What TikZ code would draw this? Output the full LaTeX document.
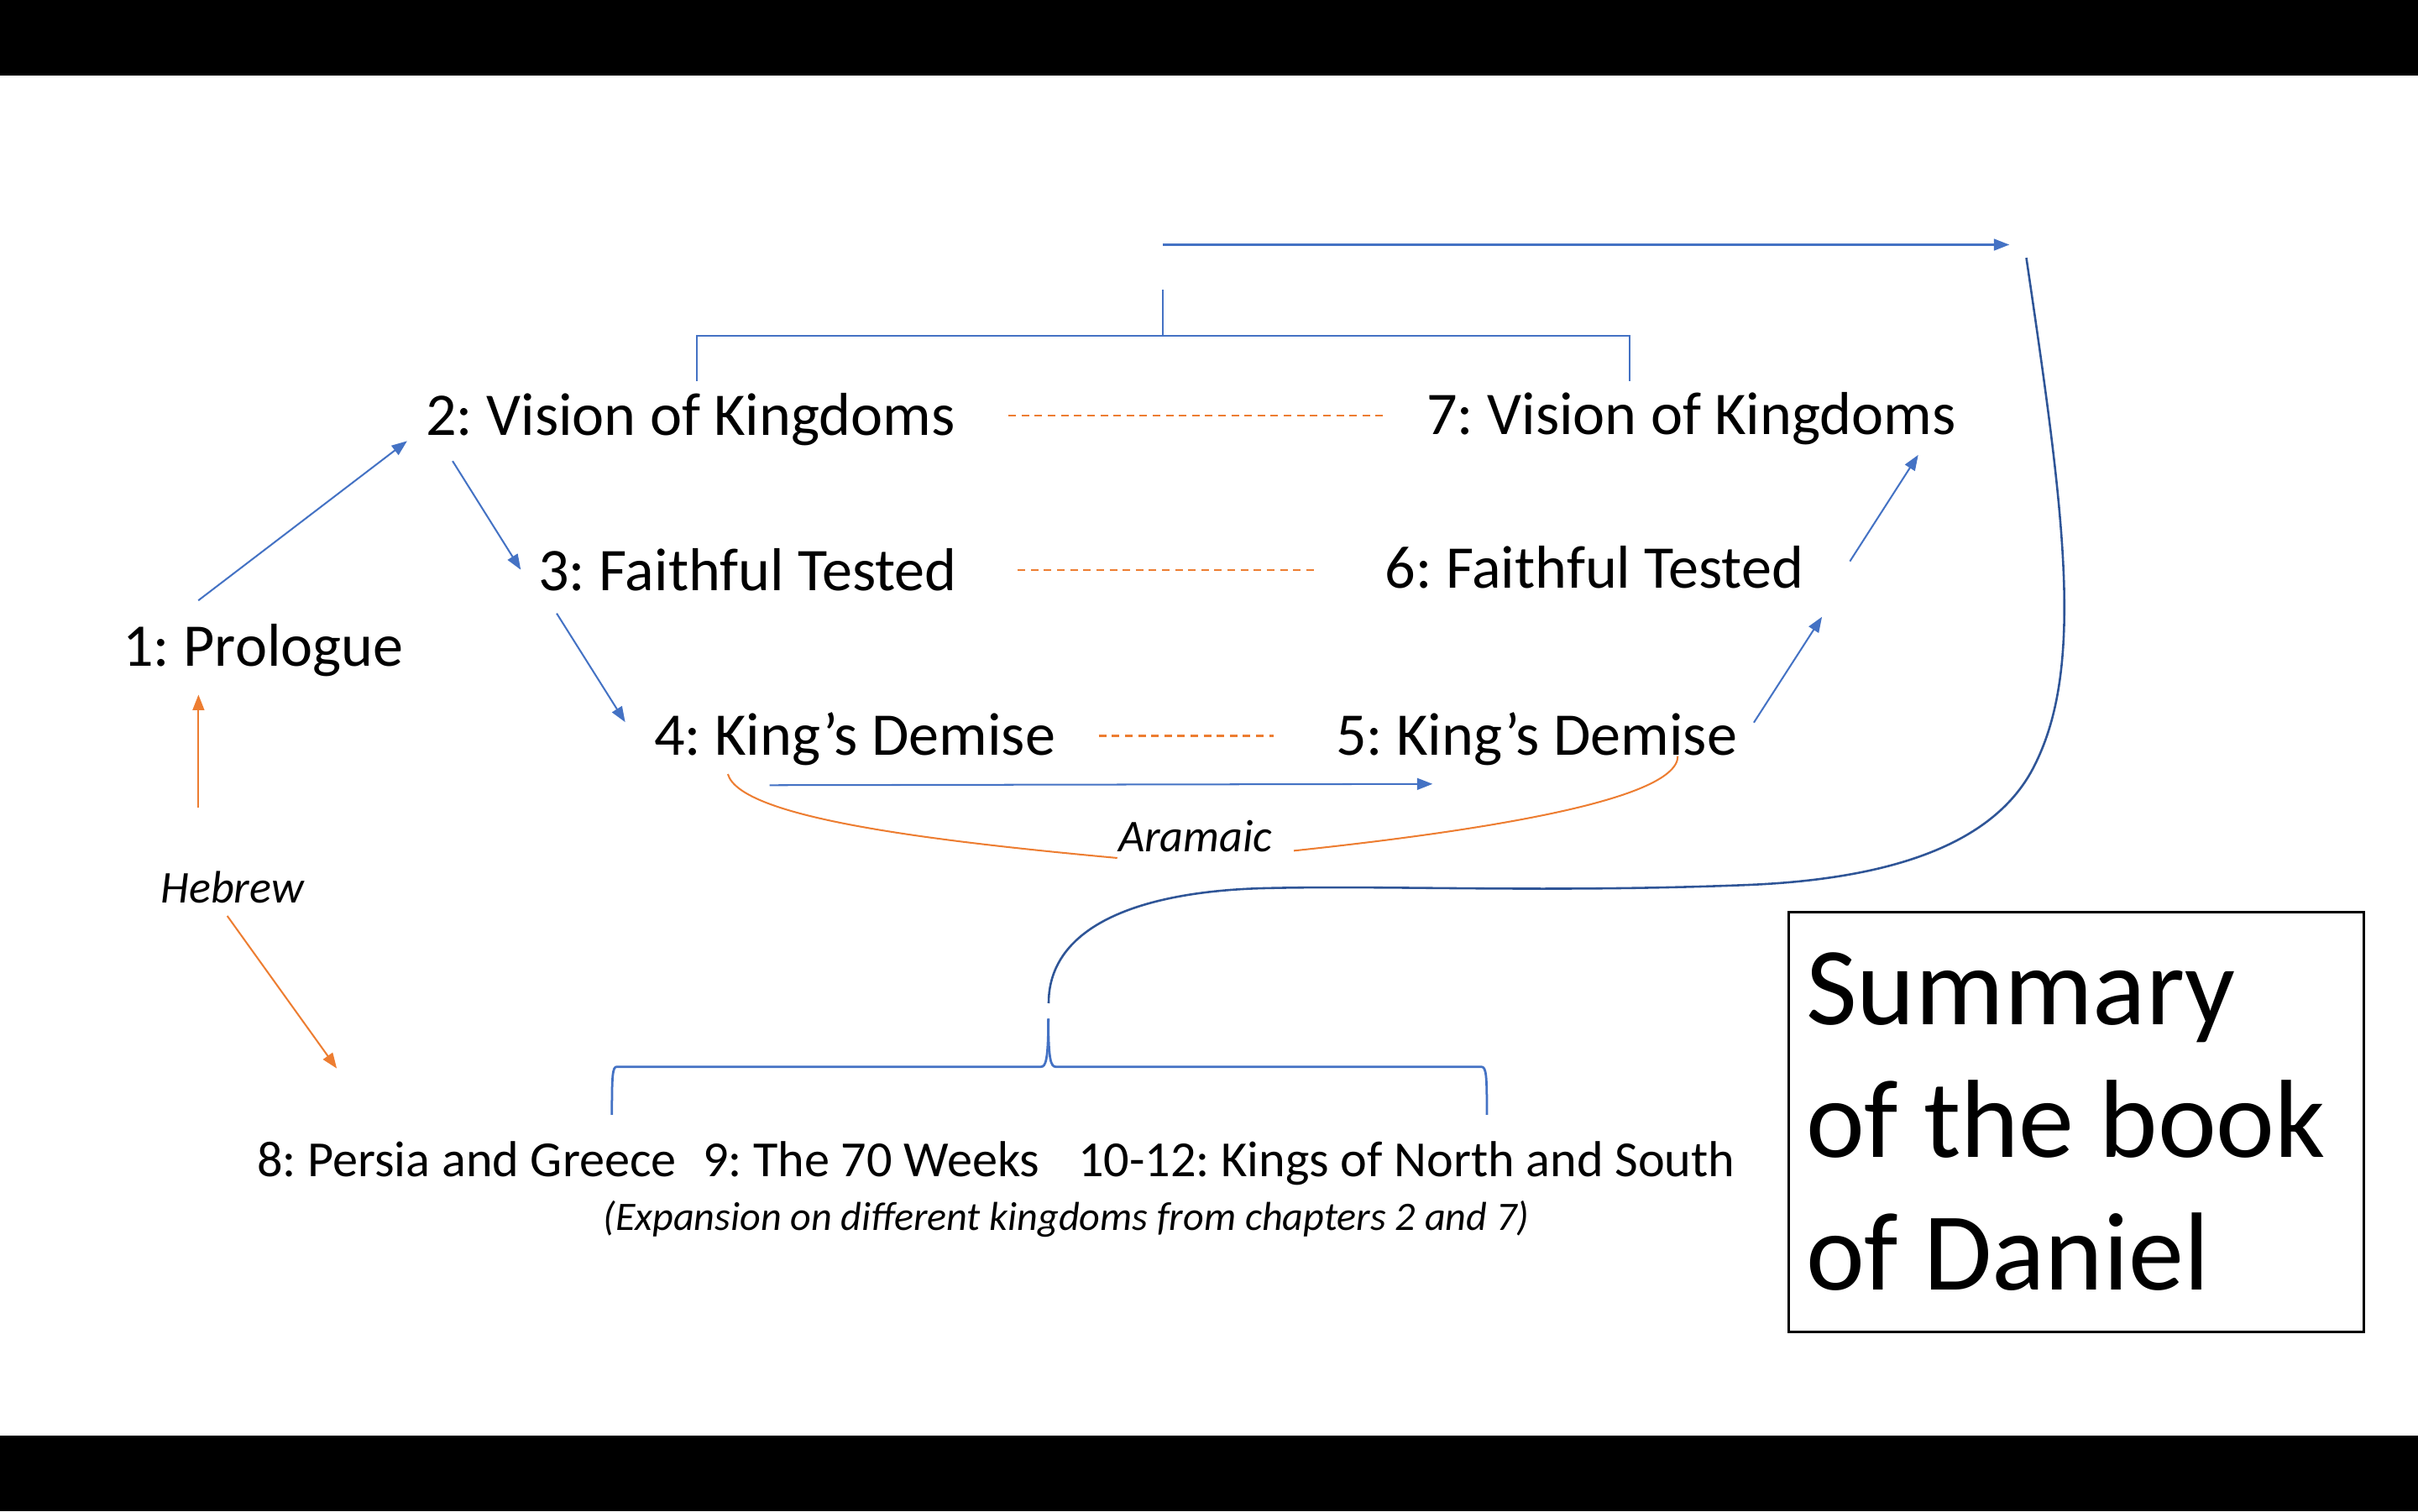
\documentclass[tikz,border=0pt]{standalone}
\usepackage{fontspec}
\setmainfont{Carlito}
\frenchspacing
\usetikzlibrary{arrows.meta}
\definecolor{pblue}{HTML}{4472C4}
\definecolor{dblue}{HTML}{2F5597}
\definecolor{porange}{HTML}{ED7D31}
\tikzset{
  big/.style={font=\fontsize{39.3}{46}\selectfont, anchor=base west, inner sep=0pt},
  mid/.style={font=\fontsize{32.8}{39}\selectfont, anchor=base west, inner sep=0pt},
  lang/.style={font=\itshape\fontsize{29.5}{35}\selectfont, anchor=base west, inner sep=0pt},
  note/.style={font=\itshape\fontsize{26.2}{31}\selectfont, anchor=base west, inner sep=0pt},
  huge/.style={font=\fontsize{72}{86}\selectfont, anchor=base west, inner sep=0pt},
  flow/.style={draw=pblue, line width=1.1pt, -{Triangle[length=10pt,width=7.5pt]}},
  oflow/.style={draw=porange, line width=1.1pt, -{Triangle[length=10pt,width=7.5pt]}},
  pair/.style={draw=porange, line width=1.1pt, dash pattern=on 4.9pt off 3.6pt},
  arc/.style={draw=porange, line width=1.1pt},
  brk/.style={draw=pblue, line width=1.1pt},
  brace/.style={draw=pblue, line width=1.5pt},
  swoop/.style={draw=dblue, line width=1.4pt},
}
\begin{document}
\begin{tikzpicture}[x=1pt,y=-1pt]
\useasboundingbox (0,0) rectangle (1568,980);
\fill[white] (0,0) rectangle (1568,980);
\fill[black] (0,0) rectangle (1568,49);
\fill[black] (0,931) rectangle (1568,980);

% chapter nodes
\node[big] (n1) at (79.5,432) {1: Prologue};
\node[big] (n2) at (276,282.5) {2: Vision of Kingdoms};
\node[big] (n3) at (349,382.8) {3: Faithful Tested};
\node[big] (n4) at (424,489.5) {4: King’s Demise};
\node[big] (n5) at (866,489.5) {5: King’s Demise};
\node[big] (n6) at (898,381.5) {6: Faithful Tested};
\node[big] (n7) at (925,282) {7: Vision of Kingdoms};

\node[mid] (n8) at (166.5,763.2) {8: Persia and Greece};
\node[mid] (n9) at (455.5,763.2) {9: The 70 Weeks};
\node[mid] (n10) at (699,763.2) {10-12: Kings of North and South};
\node[note] (exp) at (391,797.6) {(Expansion on different kingdoms from chapters 2 and 7)};

\node[lang] (heb) at (104,585.8) {Hebrew};
\node[lang] (ara) at (725,552.6) {Aramaic};

% summary box
\draw[line width=1.6pt] (1160,591.3) rectangle (1533,864);
\node[huge] (s1) at (1171,664.5) {Summary};
\node[huge] (s2) at (1171,750.5) {of the book};
\node[huge] (s3) at (1171,836.6) {of Daniel};

% arrow end points
\coordinate (a12s) at (128.6,389.4); \coordinate (a12e) at (264,286);
\coordinate (a23s) at (293.5,299);   \coordinate (a23e) at (337.7,369.5);
\coordinate (a34s) at (361,397.8);   \coordinate (a34e) at (405.4,468.3);
\coordinate (a45s) at (499,509.2);   \coordinate (a45e) at (929,508.4);
\coordinate (a56s) at (1137.3,468.6);\coordinate (a56e) at (1181.5,400);
\coordinate (a67s) at (1199.6,364);  \coordinate (a67e) at (1243.9,295);
\coordinate (tops) at (754,158.7);   \coordinate (tope) at (1303,158.7);
\coordinate (h1s) at (128.7,524);    \coordinate (h1e) at (128.7,450.5);
\coordinate (h8s) at (147.4,594);    \coordinate (h8e) at (218.4,692.9);

\draw[flow] (a12s) -- (a12e);
\draw[flow] (a23s) -- (a23e);
\draw[flow] (a34s) -- (a34e);
\draw[flow] (a45s) -- (a45e);
\draw[flow] (a56s) -- (a56e);
\draw[flow] (a67s) -- (a67e);
\draw[flow] (tops) -- (tope);
\draw[oflow] (h1s) -- (h1e);
\draw[oflow] (h8s) -- (h8e);

% dashed pairings
\coordinate (d27s) at (654,269.4); \coordinate (d27e) at (898.4,269.4);
\coordinate (d36s) at (660,369.5); \coordinate (d36e) at (853.5,369.5);
\coordinate (d45s) at (712.5,477.2); \coordinate (d45e) at (825.8,477.2);
\draw[pair] (d27s) -- (d27e);
\draw[pair] (d36s) -- (d36e);
\draw[pair] (d45s) -- (d45e);

% Aramaic arcs
\coordinate (al0) at (472,502); \coordinate (al1) at (724.5,556.4);
\coordinate (ar0) at (839,551.7); \coordinate (ar1) at (1088,490.3);
\draw[arc] (al0) .. controls (480,530) and (600,545) .. (al1);
\draw[arc] (ar0) .. controls (950,540) and (1088,520) .. (ar1);

% top bracket over 2 and 7
\coordinate (bl) at (452,247); \coordinate (br) at (1057,247);
\coordinate (bc) at (754,188);
\draw[brk] (bl) -- (452,217.8) -- (1057,217.8) -- (br);
\draw[brk] (bc) -- (754,217.8);

% long swoop
\coordinate (sw0) at (1314,167.2);
\coordinate (sw1) at (1320,495);
\coordinate (sw2) at (1130,574);
\coordinate (sw3) at (820,576);
\coordinate (sw4) at (680,650.6);
\draw[swoop] (sw0) .. controls (1338,330) and (1352,430) .. (sw1)
  .. controls (1298,541) and (1240,570) .. (sw2)
  .. controls (1000,579) and (900,574) .. (sw3)
  .. controls (740,578) and (680,600) .. (sw4);

% lower brace over 8-12
\coordinate (tip) at (679.8,660.6);
\coordinate (ll) at (396.8,723); \coordinate (rl) at (964.2,723);
\draw[brace] (tip) .. controls (679.8,688) and (678,691.8) .. (675,691.8)
  -- (400,691.8) .. controls (397.2,691.8) and (396.8,697) .. (ll);
\draw[brace] (tip) .. controls (679.8,688) and (681.6,691.8) .. (684.6,691.8)
  -- (960.5,691.8) .. controls (963.8,691.8) and (964.2,697) .. (rl);
\end{tikzpicture}
\end{document}
